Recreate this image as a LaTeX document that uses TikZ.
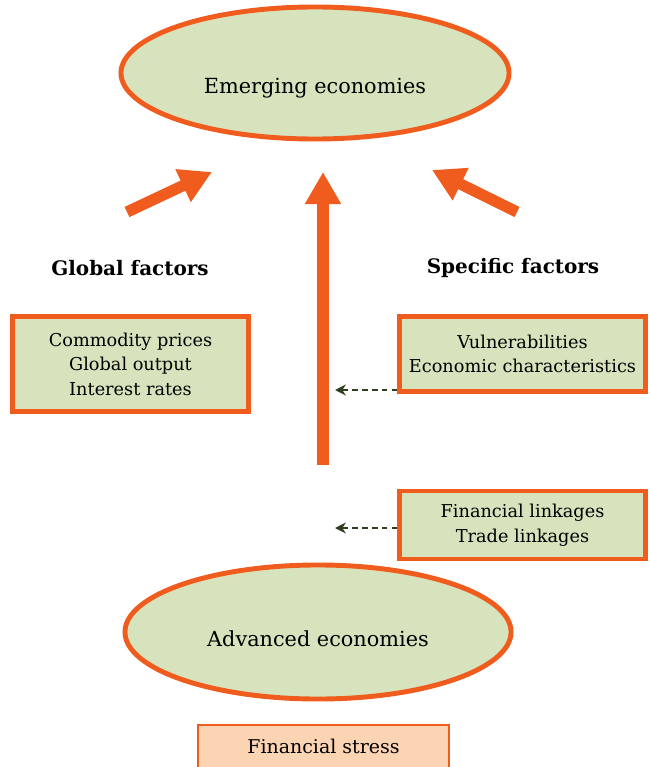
\documentclass[tikz,border=0pt]{standalone}
\usepackage{fontspec}
\setmainfont{DejaVu Serif}
\usetikzlibrary{shapes.geometric}
\usetikzlibrary{arrows.meta}
\usetikzlibrary{positioning}

\definecolor{econorange}{RGB}{240,92,30}
\definecolor{econgreen}{RGB}{215,227,189}
\definecolor{stresspeach}{RGB}{251,212,180}
\definecolor{dashgreen}{RGB}{48,62,32}

\begin{document}
\begin{tikzpicture}[x=0.025cm, y=-0.025cm,
    econ/.style={ellipse, draw=econorange, fill=econgreen, line width=3.5pt, inner sep=0pt, text depth=3.6pt, font=\fontsize{14.8}{17}\selectfont},
    factorbox/.style={rectangle, draw=econorange, fill=econgreen, line width=3.2pt, align=center, inner sep=0pt, font=\fontsize{12.6}{17.4}\selectfont},
    factortitle/.style={font=\bfseries\fontsize{14.2}{16}\selectfont},
    bigarrow/.style={draw=econorange, line width=8pt, -{Triangle[length=0.8cm, width=0.85cm]}},
    dasharrow/.style={draw=dashgreen, line width=1.3pt, dash pattern=on 4pt off 3pt, -{Stealth[length=2.7mm, width=2.7mm]}}]
    \useasboundingbox (0,0) rectangle (649,767);

    % economies
    \node[econ, minimum width=9.7cm, minimum height=3.3cm, text height=32.5pt] (emerging) at (315,73) {Emerging economies};
    \node[econ, minimum width=9.65cm, minimum height=3.35cm, text height=24.5pt] (advanced) at (318,632) {Advanced economies};

    % factors
    \node[factortitle] (globaltitle) at (130,268) {Global factors};
    \node[factortitle] (specifictitle) at (513,268) {Specific factors};
    \node[factorbox, minimum width=5.9cm, minimum height=2.375cm] (globalbox) at (130.5,364)
        {Commodity prices\\Global output\\Interest rates};
    \node[factorbox, minimum width=6.15cm, minimum height=1.875cm] (specificbox) at (522.5,354)
        {Vulnerabilities\\Economic characteristics};
    \node[factorbox, minimum width=6.15cm, minimum height=1.7cm] (linkbox) at (522.5,525)
        {Financial linkages\\Trade linkages};
    \node[rectangle, draw=econorange, fill=stresspeach, line width=1.2pt, minimum width=6.275cm, minimum height=1.25cm,
        text depth=5.6pt, font=\fontsize{13.5}{16}\selectfont] (stress) at (323.5,750) {Financial stress};

    % arrows
    \coordinate (globaltail) at (127,212);
    \coordinate (globalhead) at (212,172);
    \coordinate (maintail) at (323,465);
    \coordinate (mainhead) at (323,172);
    \coordinate (specifictail) at (517,212);
    \coordinate (specifichead) at (432,170);
    \draw[bigarrow] (globaltail) -- (globalhead);
    \draw[bigarrow] (maintail) -- (mainhead);
    \draw[bigarrow] (specifictail) -- (specifichead);

    \coordinate (vulntip) at (335,390);
    \coordinate (linktip) at (335,528);
    \draw[dasharrow] (specificbox.west |- vulntip) -- (vulntip);
    \draw[dasharrow] (linkbox.west |- linktip) -- (linktip);
\end{tikzpicture}
\end{document}
